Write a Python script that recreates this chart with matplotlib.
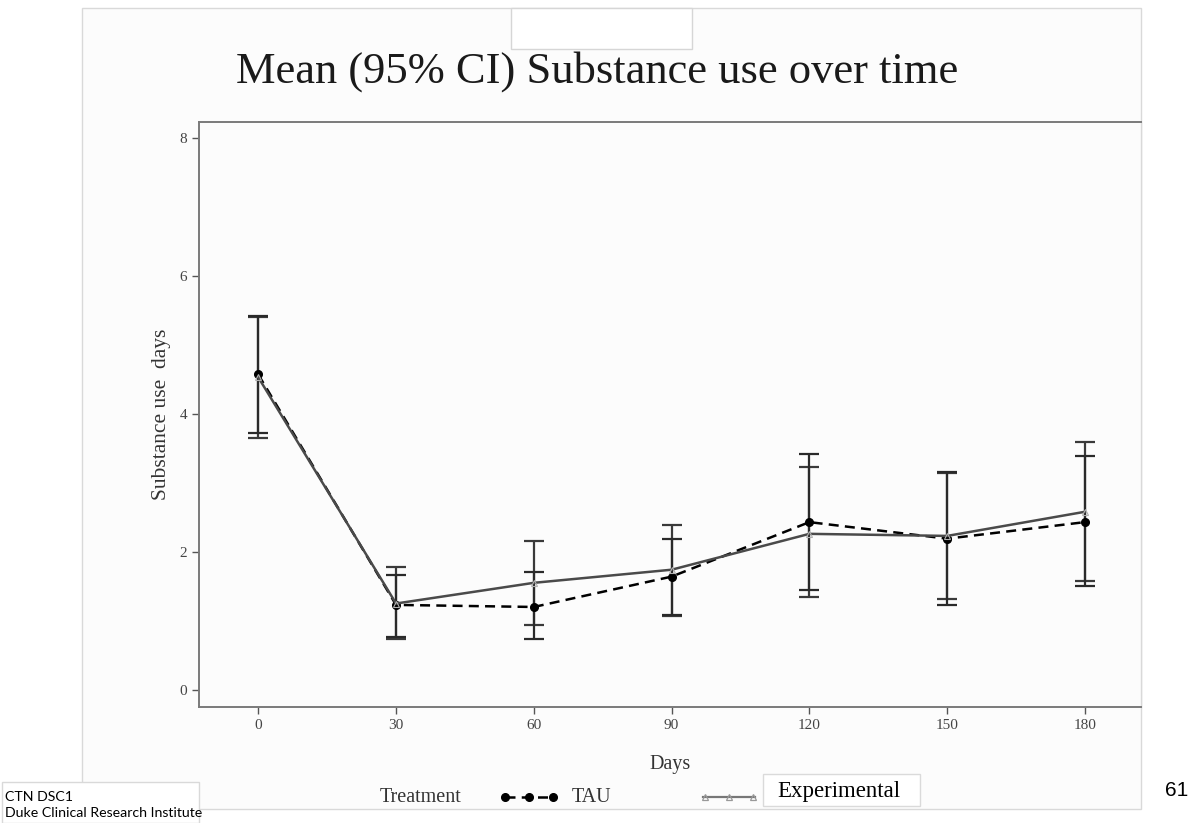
import matplotlib
matplotlib.use("Agg")
import matplotlib.pyplot as plt
from matplotlib.lines import Line2D
from matplotlib.patches import Rectangle

# mean substance use days with 95% CI, by visit day
days = [0, 30, 60, 90, 120, 150, 180]
tau_mean = [4.57, 1.23, 1.20, 1.64, 2.43, 2.19, 2.43]
tau_lo = [3.72, 0.77, 0.74, 1.08, 1.45, 1.23, 1.51]
tau_hi = [5.42, 1.67, 1.70, 2.19, 3.42, 3.16, 3.39]
exp_mean = [4.53, 1.25, 1.55, 1.74, 2.26, 2.23, 2.58]
exp_lo = [3.65, 0.74, 0.94, 1.07, 1.35, 1.32, 1.57]
exp_hi = [5.41, 1.78, 2.16, 2.39, 3.23, 3.14, 3.59]
y_ticks = [0, 2, 4, 6, 8]

W, H = 1198, 823
SERIF = ["Liberation Serif", "DejaVu Serif"]
SANS = ["Lato", "Liberation Sans", "DejaVu Sans"]


def px(x):
    return x / W


def py(y):
    return 1 - y / H


fig = plt.figure(figsize=(W / 100, H / 100), dpi=100)
fig.patch.set_facecolor("white")

# slide panel behind the chart
fig.add_artist(Rectangle((px(82), py(809)), px(1141) - px(82), py(8) - py(809),
                         transform=fig.transFigure, facecolor="#fcfcfc",
                         edgecolor="#d9d9d9", linewidth=1, zorder=0))
# empty placeholder box at the top
fig.add_artist(Rectangle((px(511), py(49)), px(692) - px(511), py(8) - py(49),
                         transform=fig.transFigure, facecolor="white",
                         edgecolor="#d6d6d6", linewidth=1, zorder=1))

ax = fig.add_axes([px(199), py(707), px(1141) - px(199), py(122) - py(707)])
ax.set_facecolor("#fcfcfc")


def yerr(mean, lo, hi):
    return [[m - l for m, l in zip(mean, lo)], [h - m for m, h in zip(mean, hi)]]


ax.errorbar(days, exp_mean, yerr=yerr(exp_mean, exp_lo, exp_hi), fmt="none",
            ecolor="#3a3a3a", elinewidth=1.6, capsize=7, capthick=1.6, zorder=2)
ax.errorbar(days, tau_mean, yerr=yerr(tau_mean, tau_lo, tau_hi), fmt="none",
            ecolor="#2a2a2a", elinewidth=1.6, capsize=7, capthick=1.6, zorder=2)
ax.plot(days, tau_mean, linestyle=(0, (4, 2.5)), color="black", linewidth=1.8,
        marker="o", markersize=5.5, zorder=3)
ax.plot(days, exp_mean, linestyle="-", color="#4a4a4a", linewidth=1.8,
        marker="^", markersize=4, markerfacecolor="none",
        markeredgecolor="#b0b0b0", markeredgewidth=0.8, zorder=4)

ax.set_xlim(-12.9, 192.2)
ax.set_ylim(-0.25, 8.23)
ax.set_xticks(days)
ax.set_yticks(y_ticks)
ax.tick_params(colors="#555555", labelcolor="#444444", length=5, width=1,
               labelsize=11)
for lab in ax.get_xticklabels() + ax.get_yticklabels():
    lab.set_family(SERIF)

for side in ["left", "bottom", "top"]:
    ax.spines[side].set_color("#7a7a7a")
    ax.spines[side].set_linewidth(1.4)
ax.spines["right"].set_color("#d9d9d9")
ax.spines["right"].set_linewidth(1)

ax.set_xlabel("Days", family=SERIF, fontsize=14.5, color="#333333", labelpad=17)
ax.set_ylabel("Substance use  days", family=SERIF, fontsize=15.5, color="#333333",
              labelpad=6)

fig.text(px(597), py(72), "Mean (95% CI) Substance use over time", family=SERIF,
         fontsize=32, ha="center", va="center", color="#1a1a1a")

# treatment legend along the bottom
fig.text(px(421), py(797), "Treatment", family=SERIF, fontsize=14.5,
         ha="center", va="center", color="#333333")
fig.add_artist(Line2D([px(505), px(553)], [py(797), py(797)],
                      transform=fig.transFigure, color="black",
                      linestyle=(0, (4, 2.5)), linewidth=1.8))
fig.add_artist(Line2D([px(505), px(529), px(553)], [py(797)] * 3,
                      transform=fig.transFigure, linestyle="none",
                      marker="o", markersize=5.5, color="black"))
fig.text(px(572), py(797), "TAU", family=SERIF, fontsize=14.5, ha="left",
         va="center", color="#333333")
fig.add_artist(Line2D([px(703), px(755)], [py(797), py(797)],
                      transform=fig.transFigure, color="#777777", linewidth=1.6))
fig.add_artist(Line2D([px(705), px(729), px(753)], [py(797)] * 3,
                      transform=fig.transFigure, linestyle="none", marker="^",
                      markersize=5, markerfacecolor="none",
                      markeredgecolor="#999999", markeredgewidth=0.9))
fig.add_artist(Rectangle((px(763), py(806)), px(920) - px(763), py(774) - py(806),
                         transform=fig.transFigure, facecolor="white",
                         edgecolor="#dadada", linewidth=1, zorder=2))
fig.text(px(777), py(792), "Experimental", family=SERIF, fontsize=16.5,
         ha="left", va="center", color="black", zorder=3)

# footer
fig.add_artist(Rectangle((px(2), py(823)), px(199) - px(2), py(782) - py(823),
                         transform=fig.transFigure, facecolor="white",
                         edgecolor="#d9d9d9", linewidth=1, zorder=2))
fig.text(px(5), py(797), "CTN DSC1", family=SANS, fontsize=10.2, ha="left",
         va="center", color="black", zorder=3)
fig.text(px(5), py(813), "Duke Clinical Research Institute", family=SANS,
         fontsize=10.2, ha="left", va="center", color="black", zorder=3)
fig.text(px(1177), py(790), "61", family=["Liberation Sans", "DejaVu Sans"],
         fontsize=15, ha="center", va="center", color="black")

fig.savefig("out.png", dpi=100)
